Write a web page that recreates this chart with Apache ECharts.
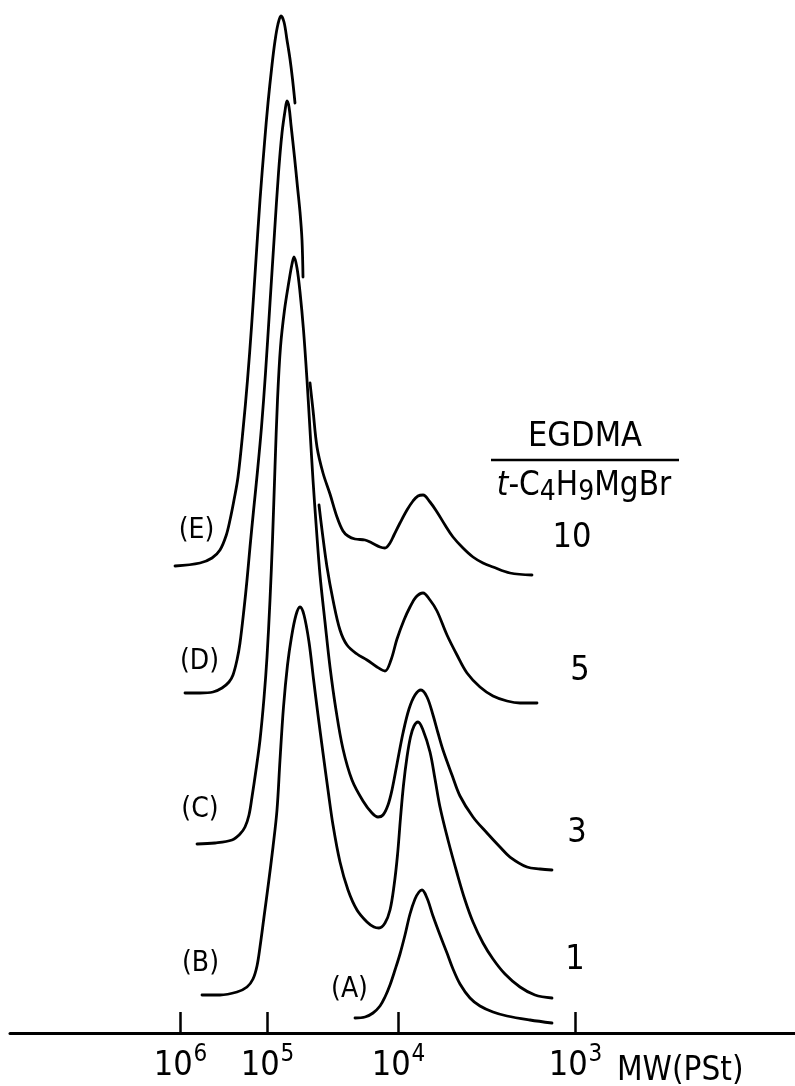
<!DOCTYPE html>
<html>
<head>
<meta charset="utf-8">
<script src="https://cdn.jsdelivr.net/npm/echarts@6.0.0/dist/echarts.min.js"></script>
<style>
  html, body { margin: 0; padding: 0; background: #fff; }
  #chart { width: 795px; height: 1086px; }
</style>
</head>
<body>
<div id="chart"></div>
<script>
// x: elution count, y: detector response with the trace offsets
const narrow = '"Liberation Sans Narrow", "DejaVu Sans Condensed", "DejaVu Sans", sans-serif';

// MW (PSt) calibration marks on the elution axis
const tickPos = [18.05, 26.75, 39.85, 57.55];
const tickExp = ['6', '5', '4', '3'];

// (E) EGDMA/t-C4H9MgBr = 10, main peak and tail (the overlapped part is not drawn)
const curveE1 = [
  [17.5, 46.7], [20.0, 47.0], [21.2, 47.5], [22.0, 48.3], [22.6, 49.7], [23.0, 51.3],
  [23.4, 53.3], [23.8, 55.6], [24.3, 60.3], [24.75, 65.3], [25.15, 70.6], [25.55, 76.6],
  [26.0, 83.3], [26.45, 89.0], [26.8, 93.0], [27.2, 96.8], [27.5, 99.2], [27.8, 100.9],
  [28.1, 101.7], [28.4, 101.1], [28.7, 99.3], [29.0, 97.4], [29.25, 95.4], [29.5, 93.0]
];
const curveE2 = [
  [31.0, 65.0], [31.3, 62.3], [31.7, 58.6], [32.3, 56.0], [33.0, 53.9], [33.7, 51.6],
  [34.3, 50.2], [34.8, 49.7], [35.5, 49.4], [36.5, 49.3], [37.2, 49.0], [38.0, 48.6],
  [38.5, 48.5], [39.0, 49.0], [39.4, 49.8], [40.0, 51.0], [40.7, 52.3], [41.3, 53.2],
  [41.8, 53.7], [42.3, 53.8], [43.0, 53.1], [43.7, 52.1], [44.5, 50.8], [45.3, 49.6],
  [46.3, 48.5], [47.3, 47.6], [48.3, 47.0], [49.3, 46.6], [51.0, 46.0], [53.2, 45.8]
];

// (D) ratio 5
const curveD1 = [
  [18.5, 34.0], [20.0, 34.0], [21.3, 34.1], [22.2, 34.5], [22.9, 35.1], [23.3, 35.8],
  [23.7, 37.3], [24.0, 39.0], [24.4, 42.4], [24.7, 45.3], [25.0, 48.6], [25.35, 52.2],
  [25.75, 56.2], [26.15, 60.6], [26.55, 66.0], [27.0, 73.0], [27.45, 80.0], [27.85, 86.0],
  [28.2, 90.0], [28.5, 92.2], [28.7, 93.2], [28.9, 92.6], [29.1, 90.8], [29.45, 87.6],
  [29.75, 84.6], [30.0, 82.1], [30.2, 79.3], [30.3, 75.6]
];
const curveD2 = [
  [31.9, 52.8], [32.2, 50.3], [32.7, 46.6], [33.3, 43.3], [34.0, 40.3], [34.7, 38.8],
  [35.7, 37.9], [36.7, 37.3], [37.7, 36.6], [38.5, 36.2], [39.1, 37.3], [39.7, 39.4],
  [40.4, 41.3], [41.0, 42.6], [41.6, 43.6], [42.3, 44.0], [43.0, 43.3], [43.7, 42.2],
  [44.7, 39.8], [45.7, 37.8], [46.7, 36.0], [48.0, 34.6], [49.3, 33.7], [50.7, 33.2],
  [52.0, 33.0], [53.7, 33.0]
];

// (C) ratio 3
const curveC = [
  [19.7, 18.9], [21.5, 19.0], [23.2, 19.3], [24.0, 19.9], [24.5, 20.6], [24.9, 21.8],
  [25.2, 23.6], [25.6, 26.3], [26.0, 29.3], [26.4, 33.5], [26.7, 37.6], [27.0, 43.3],
  [27.25, 49.3], [27.5, 56.6], [27.75, 63.3], [28.05, 68.6], [28.45, 72.3], [28.9, 75.2],
  [29.2, 76.9], [29.4, 77.6], [29.7, 76.5], [30.0, 74.1], [30.35, 70.3], [30.7, 65.3],
  [31.0, 60.3], [31.3, 55.3], [31.65, 50.3], [32.0, 45.8], [32.5, 41.1], [33.0, 36.6],
  [33.6, 32.3], [34.3, 28.4], [35.2, 25.3], [36.3, 23.2], [37.2, 22.0], [37.8, 21.6],
  [38.3, 21.8], [38.8, 22.8], [39.2, 24.3], [39.7, 26.9], [40.3, 30.0], [40.9, 32.4],
  [41.5, 33.8], [42.1, 34.3], [42.7, 33.6], [43.3, 31.8], [43.8, 30.0], [44.3, 28.3],
  [45.2, 25.8], [46.0, 23.7], [47.3, 21.6], [48.7, 20.0], [50.0, 18.6], [51.0, 17.6],
  [52.7, 16.6], [54.0, 16.4], [55.2, 16.3]
];

// (B) ratio 1
const curveB = [
  [20.2, 3.8], [22.0, 3.8], [23.7, 4.1], [24.7, 4.6], [25.3, 5.4], [25.7, 6.7],
  [26.0, 8.6], [26.4, 11.6], [26.85, 15.0], [27.3, 18.6], [27.7, 22.3], [28.0, 27.3],
  [28.35, 32.6], [28.75, 36.8], [29.15, 39.6], [29.6, 41.8], [30.0, 42.6], [30.4, 41.8],
  [30.9, 39.1], [31.35, 35.4], [31.8, 31.8], [32.3, 28.0], [32.8, 24.3], [33.3, 20.8],
  [34.0, 17.1], [34.8, 14.3], [35.7, 12.3], [36.7, 11.1], [37.4, 10.6], [37.9, 10.5],
  [38.5, 11.0], [39.0, 12.3], [39.4, 14.7], [39.75, 17.8], [40.05, 21.5], [40.35, 24.8],
  [40.7, 27.6], [41.05, 29.6], [41.4, 30.7], [41.8, 31.1], [42.3, 30.3], [43.0, 28.1],
  [43.5, 25.4], [44.0, 22.6], [44.8, 19.3], [45.7, 16.0], [46.5, 13.3], [47.3, 11.1],
  [48.3, 9.0], [49.3, 7.4], [50.5, 5.9], [52.0, 4.6], [53.5, 3.8], [55.2, 3.5]
];

// (A) prepolymer
const curveA = [
  [35.5, 1.5], [36.5, 1.6], [37.3, 2.0], [38.0, 2.7], [38.5, 3.6], [39.0, 4.8],
  [39.5, 6.3], [40.0, 7.9], [40.5, 9.8], [41.0, 11.9], [41.5, 13.4], [41.9, 14.1],
  [42.2, 14.3], [42.7, 13.5], [43.3, 11.7], [44.0, 9.8], [44.7, 8.0], [45.3, 6.4],
  [46.0, 4.9], [47.0, 3.5], [48.0, 2.7], [49.3, 2.1], [50.7, 1.7], [53.0, 1.3],
  [55.2, 1.0]
];

const curveNames = ['(E)', '(D)', '(C)', '(B)', '(A)'];
const curveNamePos = [[19.65, 50.25], [19.95, 37.15], [20.0, 22.3], [20.05, 6.9], [34.95, 4.35]];
const ratioValues = ['10', '5', '3', '1'];
const ratioPos = [[57.2, 49.45], [58.0, 36.2], [57.7, 20.0], [57.5, 7.3]];
const ratioHeadPos = [[58.5, 59.6], [58.4, 54.6]];
const ratioBar = [[49.1, 57.3], [67.9, 57.3]];

const chart = echarts.init(document.getElementById('chart'), null, { renderer: 'canvas' });

const lineStyle = { color: '#000', width: 2.8, cap: 'round', join: 'round' };
const curveSeries = [curveE1, curveE2, curveD1, curveD2, curveC, curveB, curveA].map((d) => ({
  type: 'line',
  data: d,
  showSymbol: false,
  smooth: 0.35,
  lineStyle: lineStyle,
  silent: true,
  z: 3,
}));

function textPoints(names, pos, size) {
  return {
    type: 'scatter',
    symbolSize: 0,
    silent: true,
    itemStyle: { opacity: 1 },
    data: names.map((n, i) => ({ name: n, value: pos[i] })),
    label: {
      show: true,
      position: 'inside',
      formatter: (p) => p.name,
      color: '#000',
      opacity: 1,
      fontFamily: narrow,
      fontSize: size,
    },
  };
}

const headSeries = {
  type: 'scatter',
  symbolSize: 0,
  silent: true,
  itemStyle: { opacity: 1 },
  data: [
    { value: ratioHeadPos[0], label: { formatter: 'EGDMA' } },
    { value: ratioHeadPos[1], label: { formatter: '{i|t}{n|-C}{d|4}{n|H}{d|9}{n|MgBr}' } },
  ],
  label: {
    show: true,
    position: 'inside',
    color: '#000',
    opacity: 1,
    fontFamily: narrow,
    fontSize: 34,
    rich: {
      n: { fontFamily: narrow, fontSize: 33, lineHeight: 34, verticalAlign: 'top', color: '#000' },
      i: { fontFamily: narrow, fontSize: 33, lineHeight: 34, verticalAlign: 'top', fontStyle: 'italic', color: '#000' },
      d: { fontFamily: narrow, fontSize: 28, lineHeight: 28, padding: [9, 0, 0, 0], verticalAlign: 'top', color: '#000' },
    },
  },
};

const option = {
  animation: false,
  backgroundColor: '#fff',
  grid: { left: 10, right: 0, top: 0, bottom: 53, outerBoundsMode: 'none', containLabel: false },
  xAxis: {
    type: 'value',
    min: 1,
    max: 79.5,
    splitLine: { show: false },
    axisLine: { show: true, lineStyle: { color: '#000', width: 3 } },
    axisTick: {
      show: true,
      inside: true,
      length: 21,
      customValues: tickPos,
      lineStyle: { color: '#000', width: 2.5 },
    },
    axisLabel: {
      show: true,
      customValues: tickPos,
      margin: 14,
      formatter: (v) => {
        const i = tickPos.indexOf(v);
        return '{b|10}{s|' + tickExp[i] + '}';
      },
      rich: {
        b: { fontFamily: narrow, fontSize: 34, lineHeight: 36, verticalAlign: 'bottom', color: '#000' },
        s: { fontFamily: narrow, fontSize: 24, lineHeight: 24, padding: [0, 0, 16, 1], verticalAlign: 'bottom', color: '#000' },
      },
    },
  },
  yAxis: {
    type: 'value',
    min: 0,
    max: 103.3,
    show: false,
  },
  graphic: [
    {
      type: 'text',
      left: 617,
      top: 1055,
      style: { text: 'MW(PSt)', fill: '#000', font: '33px ' + narrow },
      silent: true,
    },
  ],
  series: curveSeries.concat([
    {
      type: 'line',
      data: ratioBar,
      showSymbol: false,
      lineStyle: { color: '#000', width: 2.5 },
      silent: true,
    },
    textPoints(curveNames, curveNamePos, 28),
    textPoints(ratioValues, ratioPos, 34),
    headSeries,
  ]),
};

chart.setOption(option);
</script>
</body>
</html>
